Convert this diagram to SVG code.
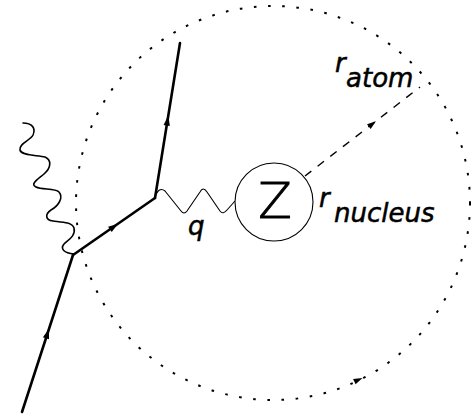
<svg xmlns="http://www.w3.org/2000/svg" width="473" height="416" viewBox="0 0 473 416">
  <style>
    .fermion { fill: none; stroke: #000; stroke-width: 2.6; stroke-linecap: round; stroke-linejoin: round; }
    .photon { fill: none; stroke: #000; stroke-width: 1.6; stroke-linecap: round; stroke-linejoin: round; }
    .virtual { fill: none; stroke: #000; stroke-width: 1.1; stroke-linejoin: round; }
    .radius { fill: none; stroke: #000; stroke-width: 1.4; stroke-dasharray: 8 8; }
    .atom { fill: none; stroke: #000; stroke-width: 2; stroke-dasharray: 2.6 11.6; }
    .nuc { fill: #fff; stroke: #000; stroke-width: 1.1; }
    .lbl { font-family: "DejaVu Sans", "Liberation Sans", sans-serif; font-style: oblique; font-size: 26px; fill: #000; stroke: #000; stroke-width: 0.5; }
    .zed { font-family: "DejaVu Sans", "Liberation Sans", sans-serif; font-weight: 200; font-size: 49px; fill: #000; stroke: #000; stroke-width: 0.9; }
  </style>
  <defs>
    <marker id="arr" markerUnits="userSpaceOnUse" markerWidth="14" markerHeight="12" viewBox="-7 -6 14 12" refX="0" refY="0" orient="auto">
      <path d="M-5,-3.2 L5,0 L-5,3.2 Z" fill="#000"/>
    </marker>
    <marker id="arrs" markerUnits="userSpaceOnUse" markerWidth="14" markerHeight="12" viewBox="-7 -6 14 12" refX="0" refY="0" orient="auto">
      <path d="M-4,-3 L5,0 L-4,3 Z" fill="#000"/>
    </marker>
  </defs>

  <g id="atom-boundary">
    <circle class="atom" cx="273" cy="203" r="197"/>
    <path d="M349,384 L358,380" fill="none" stroke="none" marker-end="url(#arrs)"/>
    <text class="lbl" x="335" y="72">r</text>
    <text class="lbl" x="346" y="87">atom</text>
  </g>

  <g id="connectors">
    <path id="electron-in" class="fermion" d="M22,412 L47.5,333.5 L73,255" marker-mid="url(#arr)"/>
    <path id="electron-mid" class="fermion" d="M73,255 L114,226.5 L155,198" marker-mid="url(#arr)"/>
    <path id="electron-out" class="fermion" d="M155,198 L167.5,120.5 L180,43" marker-mid="url(#arr)"/>
    <path id="photon-in" class="photon" d="M23,123 C32,123 36,128 33,135 C30,141 19,143 20,150 C21,156 38,155 45,157 C52,160 51,168 44,174 C37,180 30,184 36,187 C42,190 55,188 59,192 C64,198 58,206 51,210 C45,214 45,220 53,221 C61,222 72,222 74,228 C76,236 68,240 64,244 C60,249 64,253 74,254"/>
    <path id="photon-q" class="virtual" d="M155,197 Q159,186 165,191 L181,211 Q184,215 187,211 L200,192 Q203,186 207,192 L220,211 Q223,215 227,210 L235,201"/>
    <path id="radius-atom" class="radius" d="M305,176 L420,87"/>
    <path d="M366,128.8 L372,124.2" fill="none" stroke="none" marker-end="url(#arrs)"/>
    <text class="lbl" x="188" y="235" font-size="24">q</text>
  </g>

  <g id="nucleus">
    <circle class="nuc" cx="274" cy="202" r="39"/>
    <text class="zed" x="275" y="218" text-anchor="middle">Z</text>
    <text class="lbl" x="319" y="207">r</text>
    <text class="lbl" x="334" y="222">nucleus</text>
  </g>
</svg>
